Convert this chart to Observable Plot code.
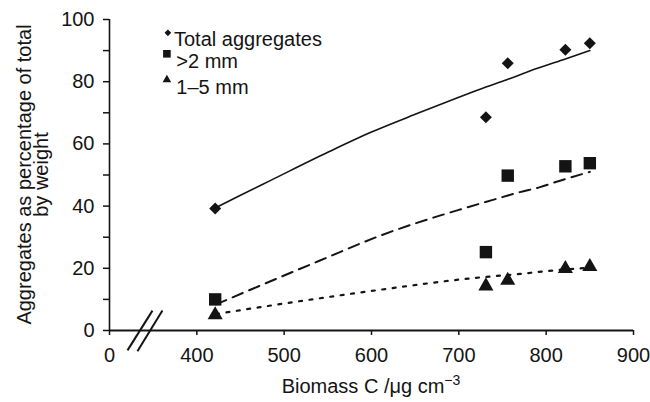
<!DOCTYPE html>
<html><head><meta charset="utf-8">
<script src="https://cdn.jsdelivr.net/npm/d3@7"></script>
<script src="https://cdn.jsdelivr.net/npm/@observablehq/plot@0.6"></script>
<style>
html,body{margin:0;padding:0;background:#fff;}
#chart{width:650px;height:402px;}
</style></head><body><div id="chart"></div>
<script>
// Measured points
const biomass = [421, 731, 756, 822, 850];
const totalAgg = [39.2, 68.6, 85.9, 90.3, 92.4];
const over2mm = [10.0, 25.2, 49.8, 52.8, 53.8];
const mm1to5 = [5.0, 14.3, 16.1, 19.9, 20.5];

// Fitted curves
const fitTotalX = [421, 450, 484, 550, 600, 650, 700, 731, 757, 790, 822, 850];
const fitTotalY = [39.4, 43.5, 48.2, 57.3, 63.8, 69.5, 75.0, 78.3, 80.9, 84.3, 87.3, 90.0];
const fitOver2X = [422, 495, 541, 610, 700, 739, 770, 793, 814, 850];
const fitOver2Y = [8.4, 17.1, 22.5, 30.5, 38.8, 42.0, 44.5, 46.1, 48.0, 51.0];
const fit1to5X = [422, 522, 610, 718, 770, 808, 850];
const fit1to5Y = [5.3, 9.6, 13.1, 16.9, 18.2, 19.3, 20.2];

const seriesNames = ["Total aggregates", ">2 mm", "1\u20135 mm"];
const xTicks = [300, 400, 500, 600, 700, 800, 900];
const xTickLabels = ["0", "400", "500", "600", "700", "800", "900"];
const yTicks = [0, 20, 40, 60, 80, 100];
const yMinorTicks = [10, 30, 50, 70, 90];
const xTitle = "Biomass C /\u03bcg cm";
const xTitleSup = "\u22123";
const yTitle = ["Aggregates as percentage of total", "by weight"];
const axisBreak = [
  {x1: 320.6, y1: -6.4, x2: 349.2, y2: 6.4},
  {x1: 332.0, y1: -6.7, x2: 360.6, y2: 6.4}
];

const ink = "#141414";
const font = "'Liberation Sans', Arial, Helvetica, sans-serif";
const pts = (ys) => biomass.map((x, i) => ({x, y: ys[i]}));
const fit = (xs, ys) => xs.map((x, i) => ({x, y: ys[i]}));

const W = 650, H = 402, ML = 109, MR = 17, MT = 19, MB = 72;

const plot = Plot.plot({
  width: W, height: H,
  marginLeft: ML, marginRight: MR, marginTop: MT, marginBottom: MB,
  x: {domain: [300, 900]},
  y: {domain: [0, 100]},
  style: {fontFamily: font, fontSize: "20px", color: ink, background: "#fff"},
  marks: [
    Plot.axisX(xTicks, {tickSize: 5, tickPadding: 12, tickFormat: (d) => xTickLabels[xTicks.indexOf(d)], label: null, fontSize: 20, strokeWidth: 1.5}),
    Plot.axisY(yTicks, {tickSize: 6, tickPadding: 9, label: null, fontSize: 20, strokeWidth: 1.5}),
    Plot.axisY(yMinorTicks, {tickSize: 6, tickFormat: () => "", label: null, strokeWidth: 1.5}),
    Plot.ruleX([300], {stroke: ink, strokeWidth: 1.6}),
    Plot.ruleY([0], {stroke: ink, strokeWidth: 2}),
    Plot.link(axisBreak, {x1: "x1", y1: "y1", x2: "x2", y2: "y2", stroke: ink, strokeWidth: 2}),
    Plot.line(fit(fitTotalX, fitTotalY), {x: "x", y: "y", stroke: ink, strokeWidth: 1.6, curve: "monotone-x"}),
    Plot.line(fit(fitOver2X, fitOver2Y), {x: "x", y: "y", stroke: ink, strokeWidth: 2, strokeDasharray: "11,7", curve: "monotone-x"}),
    Plot.line(fit(fit1to5X, fit1to5Y), {x: "x", y: "y", stroke: ink, strokeWidth: 2.2, strokeDasharray: "3,7.5", curve: "monotone-x"}),
    Plot.dot(pts(totalAgg), {x: "x", y: "y", symbol: "diamond2", r: 5.4, fill: ink, stroke: null}),
    Plot.dot(pts(over2mm), {x: "x", y: "y", symbol: "square", r: 7, fill: ink, stroke: null}),
    Plot.dot(pts(mm1to5), {x: "x", y: "y", symbol: "triangle", r: 5.6, fill: ink, stroke: null}),
    // legend
    Plot.dot([seriesNames[0]], {frameAnchor: "top-left", dx: 58.4, dy: 13.3, symbol: "diamond2", r: 3, fill: ink, stroke: null}),
    Plot.dot([seriesNames[1]], {frameAnchor: "top-left", dx: 57.4, dy: 34.3, symbol: "square", r: 4.3, fill: ink, stroke: null}),
    Plot.dot([seriesNames[2]], {frameAnchor: "top-left", dx: 57.4, dy: 60.3, symbol: "triangle", r: 3.2, fill: ink, stroke: null}),
    Plot.text([seriesNames[0]], {frameAnchor: "top-left", dx: 64.5, dy: 11.9, text: (d) => d, textAnchor: "start", fontSize: 20, fill: ink}),
    Plot.text([seriesNames[1]], {frameAnchor: "top-left", dx: 66.8, dy: 34.6, text: (d) => d, textAnchor: "start", fontSize: 20, fill: ink}),
    Plot.text([seriesNames[2]], {frameAnchor: "top-left", dx: 66.8, dy: 60.3, text: (d) => d, textAnchor: "start", fontSize: 20, fill: ink})
  ]
});

const svg = d3.select(plot);
const cx = (ML + W - MR) / 2;
const xt = svg.append("text")
  .attr("x", cx).attr("y", 393)
  .attr("text-anchor", "middle")
  .attr("font-family", font).attr("font-size", 20).attr("fill", ink)
  .text(xTitle);
xt.append("tspan").attr("dy", -8).attr("font-size", 14).text(xTitleSup);

const cy = (MT + H - MB) / 2;
[30.5, 48].forEach((bx, i) => {
  svg.append("text")
    .attr("transform", `translate(${bx},${cy}) rotate(-90)`)
    .attr("text-anchor", "middle")
    .attr("font-family", font).attr("font-size", 20).attr("fill", ink)
    .text(yTitle[i]);
});

document.getElementById("chart").appendChild(plot);
</script>
</body></html>
